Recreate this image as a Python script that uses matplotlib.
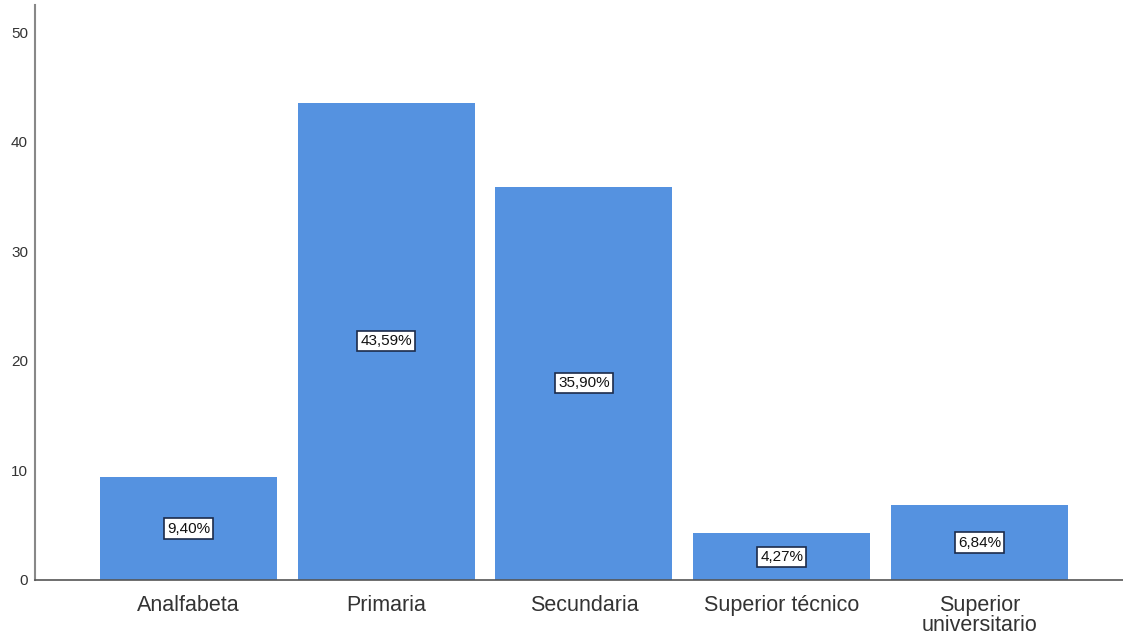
import matplotlib
matplotlib.use("Agg")
import matplotlib.pyplot as plt

categories = ["Analfabeta", "Primaria", "Secundaria", "Superior técnico", "Superior\nuniversitario"]
percentages = [9.40, 43.59, 35.90, 4.27, 6.84]
y_ticks = [0, 10, 20, 30, 40, 50]

plt.rcParams['font.family'] = ['Liberation Sans', 'DejaVu Sans']

fig = plt.figure(figsize=(11.23, 6.41), dpi=100)
ax = fig.add_axes([0.0312, 0.0952, 0.9688, 0.8968])

x = list(range(len(categories)))
bars = ax.bar(x, percentages, width=0.895, color="#5592e0", edgecolor="none")

# percentage label in a small box at mid-height of each bar
for xi, val in zip(x, percentages):
    ax.text(xi, val / 2, f"{val:.2f}%".replace(".", ","), ha="center", va="center",
            fontsize=11, color="#111111",
            bbox=dict(boxstyle="square,pad=0.2", facecolor="white",
                      edgecolor="#1c2b4a", linewidth=1.2))

ax.set_xlim(-0.776, 4.726)
ax.set_ylim(0, 52.5)
ax.set_yticks(y_ticks)
ax.set_yticklabels([str(t) for t in y_ticks], fontsize=11, color="#333333")
ax.set_xticks(x)
ax.set_xticklabels(categories, fontsize=15.5, color="#333333", linespacing=0.95)

ax.tick_params(axis="both", length=0)
ax.tick_params(axis="y", pad=5)
ax.tick_params(axis="x", pad=11)
for side in ["top", "right"]:
    ax.spines[side].set_visible(False)
ax.spines["left"].set_color("#888888")
ax.spines["bottom"].set_color("#555555")
ax.spines["left"].set_linewidth(1.5)
ax.spines["bottom"].set_linewidth(1.2)

fig.savefig("out.png", dpi=100)
